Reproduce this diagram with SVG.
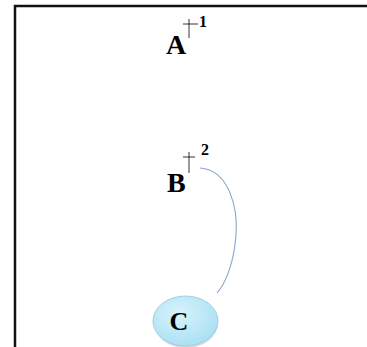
<svg xmlns="http://www.w3.org/2000/svg" width="367" height="347" viewBox="0 0 367 347">
<defs>
<style>
.lbl{font-family:"Liberation Serif","Times New Roman",serif;font-weight:bold;fill:#000}
.big{font-size:28px}
.sup{font-size:16px}
.dg{stroke:#000;stroke-width:0.8;fill:none}
.frame{stroke:#111;stroke-width:2.5;fill:none}
</style>
<radialGradient id="cg" cx="0.4" cy="0.35" r="0.7">
<stop offset="0" stop-color="#d8f3fc"/>
<stop offset="1" stop-color="#a9dff3"/>
</radialGradient>
</defs>
<rect width="367" height="347" fill="#fff"/>
<path class="frame" d="M15,347 V6 H367"/>
<g id="A">
<text class="lbl big" x="166" y="54">A</text>
<line class="dg" x1="189" y1="19" x2="189" y2="38"/>
<line class="dg" x1="183" y1="24" x2="198" y2="24"/>
<text class="lbl sup" x="199" y="27">1</text>
</g>
<g id="B">
<text class="lbl big" x="167" y="192">B</text>
<line class="dg" x1="189" y1="152" x2="189" y2="173"/>
<line class="dg" x1="183" y1="157" x2="195" y2="157"/>
<text class="lbl sup" x="201" y="155">2</text>
</g>
<g id="C">
<ellipse cx="186" cy="323" rx="32" ry="25" fill="#999" opacity="0.35"/>
<ellipse cx="185.5" cy="321" rx="32.5" ry="25" fill="url(#cg)" stroke="#9ccfe6" stroke-width="1"/>
<text class="lbl" font-size="26" x="179" y="330" text-anchor="middle">C</text>
</g>
<g id="connectors">
<path d="M200,168 C230,170 238,210 236,235 C234,262 226,283 217,293" fill="none" stroke="#8aa6cf" stroke-width="1.1"/>
</g>
</svg>
